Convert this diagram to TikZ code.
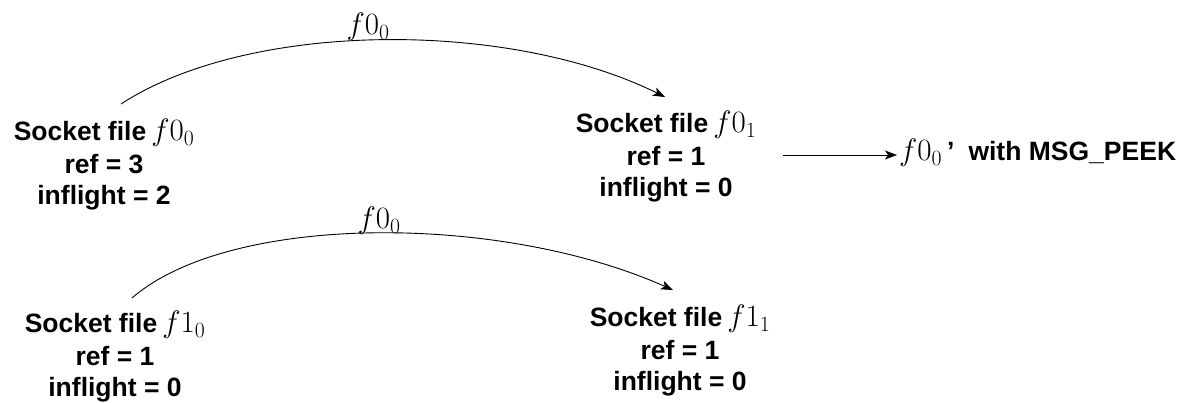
\documentclass[tikz,border=0pt]{standalone}
\usepackage{fix-cm}
\usepackage{fontspec}
\setmainfont{Liberation Sans}
\usetikzlibrary{arrows.meta}

% math set larger than the surrounding bold text
\newcommand{\fmath}[1]{{\fontsize{31}{31}\selectfont$#1$}}

\begin{document}
\begin{tikzpicture}[x=1pt,y=-1pt,
  lbl/.style={font=\fontsize{26.5}{31}\selectfont\bfseries, align=center, inner sep=0pt},
  curvelbl/.style={inner sep=0pt},
  conn/.style={-{Stealth[length=12pt,width=9pt,inset=3pt]}, line width=0.9pt},
]
\useasboundingbox (0,0) rectangle (1185,403);

% socket file states
\node[lbl] (a) at (104,165) {Socket file\hspace{5pt}\fmath{f0_0}\\[2pt] ref = 3\\ inflight = 2};
\node[lbl] (b) at (666,157) {Socket file\hspace{5pt}\fmath{f0_1}\\[2pt] ref = 1\\ inflight = 0};
\node[lbl] (c) at (115,357) {Socket file\hspace{5pt}\fmath{f1_0}\\[2pt] ref = 1\\ inflight = 0};
\node[lbl] (d) at (680,351) {Socket file\hspace{5pt}\fmath{f1_1}\\[2pt] ref = 1\\ inflight = 0};

% result of the peek
\node[lbl, anchor=west, inner sep=2pt] (peek) at (897,153) {\fmath{f0_0}\hspace{5pt}’\hspace{14pt}with MSG\_PEEK};

% edge end points
\coordinate (a-out) at (121,104);
\coordinate (b-in) at (665,97);
\coordinate (c-out) at (132,298);
\coordinate (d-in) at (673,290);
\coordinate (b-out) at (783,155);

% transfers
\draw[conn] (a-out) .. controls (250,20) and (510,20) .. (b-in);
\draw[conn] (c-out) .. controls (230,213) and (500,213) .. (d-in);
\draw[conn] (b-out) -- (b-out -| peek.west);

% edge labels sitting on the curves
\node[curvelbl, anchor=south] (l1) at (368,41) {\fmath{f0_0}};
\node[curvelbl, anchor=south] (l2) at (379,235) {\fmath{f0_0}};
\end{tikzpicture}
\end{document}
